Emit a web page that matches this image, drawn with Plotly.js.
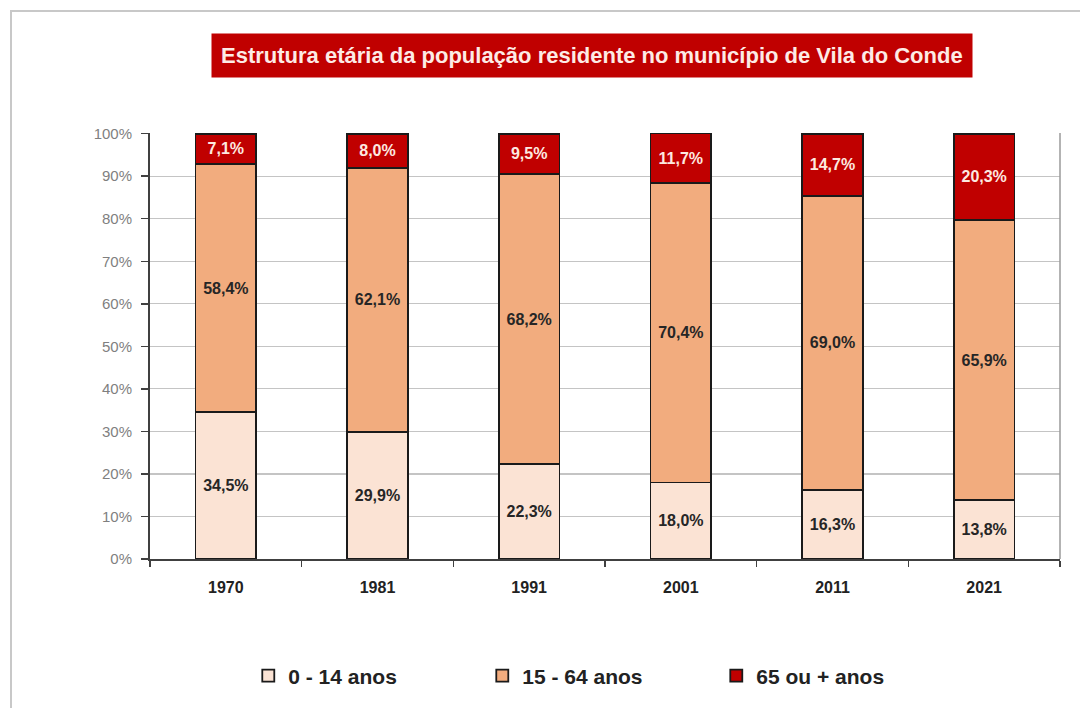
<!DOCTYPE html>
<html><head><meta charset="utf-8">
<script src="https://cdn.plot.ly/plotly-3.0.1.min.js"></script>
<style>
html,body{margin:0;padding:0;background:#fff;}
#frame{position:absolute;left:10px;top:10px;width:1080px;height:708px;border-left:2px solid #c8c8c8;border-top:2px solid #c8c8c8;box-sizing:border-box;}
#chart{position:absolute;left:0;top:0;width:1080px;height:708px;}
</style></head>
<body>
<div id="frame"></div>
<div id="chart"></div>
<script>
const years = ['1970','1981','1991','2001','2011','2021'];
const young = [34.5, 29.9, 22.3, 18.0, 16.3, 13.8];
const adult = [58.4, 62.1, 68.2, 70.4, 69.0, 65.9];
const elder = [7.1, 8.0, 9.5, 11.7, 14.7, 20.3];
const seriesNames = ['0 - 14 anos', '15 - 64 anos', '65 ou + anos'];
const titleText = 'Estrutura etária da população residente no município de Vila do Conde';
const yTicks = [0,10,20,30,40,50,60,70,80,90,100];

const FONT = '"Liberation Sans Narrow", "Arial Narrow", "Liberation Sans", Arial, sans-serif';
const fmt = v => v.toFixed(1).replace('.', ',') + '%';

function bar(vals, name, color, txtColor) {
  return {
    type: 'bar', x: years, y: vals, name: name,
    marker: {color: color, line: {color: '#1a1a1a', width: 1.8}},
    text: vals.map(fmt), textposition: 'inside', insidetextanchor: 'middle',
    textfont: {family: FONT, size: 16, color: txtColor, weight: 'bold'},
    hoverinfo: 'skip', cliponaxis: false
  };
}

const data = [
  bar(young, seriesNames[0], '#fbe3d4', '#262626'),
  bar(adult, seriesNames[1], '#f2ac7e', '#262626'),
  bar(elder, seriesNames[2], '#c00000', '#fde9e0')
];

const layout = {
  width: 1080, height: 708,
  paper_bgcolor: 'rgba(0,0,0,0)', plot_bgcolor: '#fff',
  margin: {l: 150, r: 20, t: 133, b: 149, autoexpand: false},
  barmode: 'stack', bargap: 0.6,
  showlegend: true,
  uniformtext: {mode: false},
  font: {family: FONT, color: '#222'},
  xaxis: {
    type: 'category', tickson: 'boundaries', ticks: 'outside', ticklen: 6, tickwidth: 1.5, tickcolor: '#404040',
    showline: true, linecolor: '#404040', linewidth: 2, showgrid: false,
    tickfont: {family: FONT, size: 16, color: '#222', weight: 'bold'}, ticklabelstandoff: 13
  },
  yaxis: {
    range: [0, 100.15], tickvals: yTicks, ticktext: yTicks.map(v => v + '%'),
    ticks: 'outside', ticklen: 7, tickwidth: 1.5, tickcolor: '#404040',
    showline: true, linecolor: '#404040', linewidth: 2,
    gridcolor: '#c4c4c4', gridwidth: 1.2, zeroline: false,
    tickfont: {family: FONT, size: 15, color: '#7f7f7f'}, ticklabelstandoff: 6
  },
  shapes: [
    {type: 'line', xref: 'paper', yref: 'paper', x0: 1, x1: 1, y0: 0, y1: 1, line: {color: '#9a9a9a', width: 1.5}}
  ],
  annotations: [{
    xref: 'paper', yref: 'paper', x: (592-150)/910, y: 1 + (133-56)/426, xanchor: 'center', yanchor: 'middle',
    text: titleText, showarrow: false, bgcolor: '#c00000', borderpad: 9,
    font: {family: FONT, size: 22, color: '#fdebe6', weight: 'bold'}
  }],
  legend: {
    orientation: 'h', x: 0.108, xanchor: 'left', y: -(676-559)/426, yanchor: 'middle',
    font: {family: FONT, size: 21, color: '#222', weight: 'bold'},
    entrywidth: 189, entrywidthmode: 'pixels', itemwidth: 30, traceorder: 'normal',
    bgcolor: 'rgba(0,0,0,0)'
  }
};

Plotly.newPlot('chart', data, layout, {displayModeBar: false, staticPlot: true});
</script>
</body></html>
